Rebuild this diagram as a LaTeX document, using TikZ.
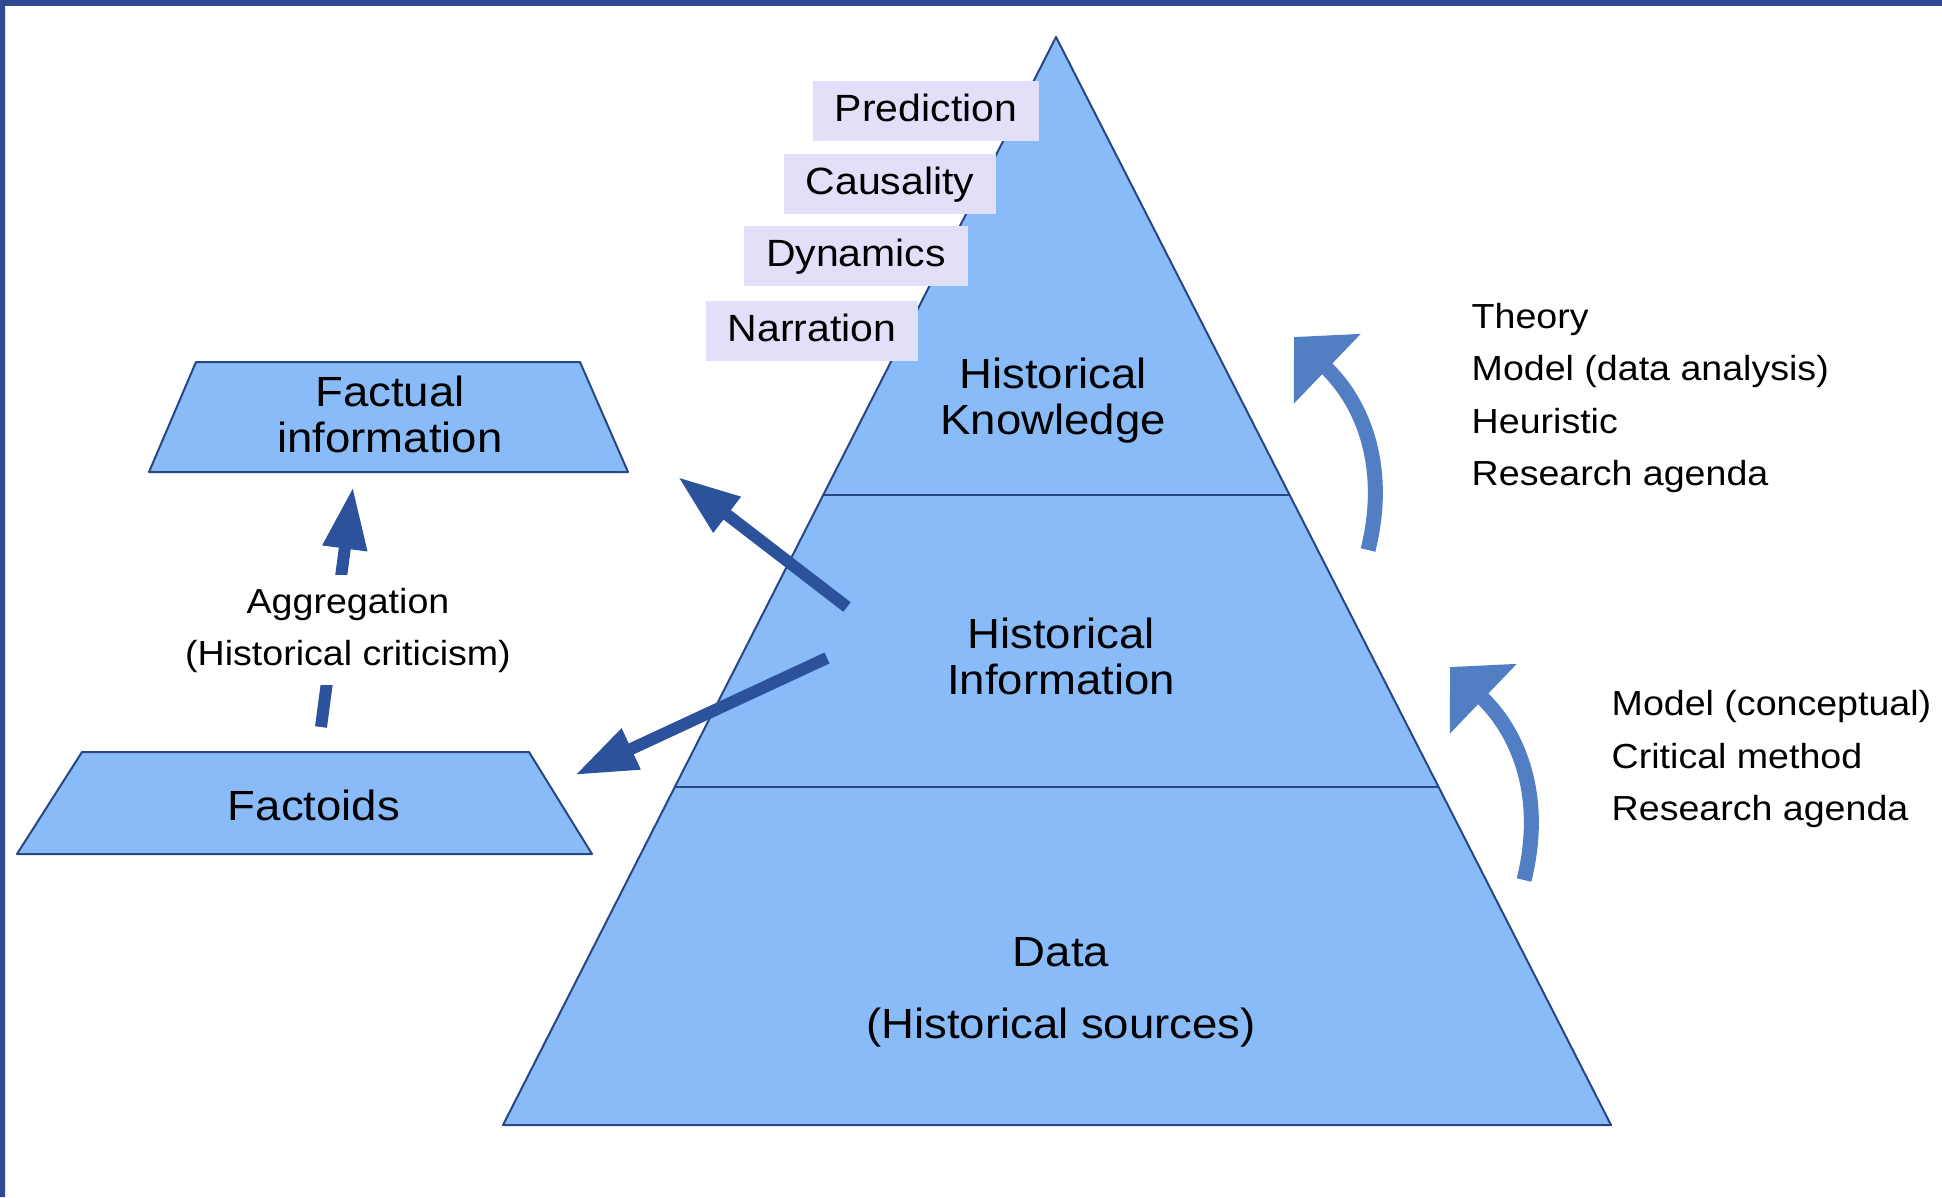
\documentclass[tikz,border=0pt]{standalone}
\usepackage{fontspec}
\setmainfont{Liberation Sans}[FakeStretch=1.08]
\usetikzlibrary{arrows.meta,calc}
\definecolor{pyrfill}{RGB}{136,187,248}
\definecolor{pyredge}{RGB}{40,70,130}
\definecolor{arrowdark}{RGB}{43,82,155}
\definecolor{arrowmid}{RGB}{82,127,196}
\definecolor{facetbg}{RGB}{226,224,248}
\definecolor{framebl}{RGB}{46,73,145}

\begin{document}
\begin{tikzpicture}[x=0.1mm, y=-0.1mm,
		layer/.style={fill=pyrfill, draw=pyredge, line width=0.2mm, line join=round},
		big/.style={font=\fontsize{12}{13.1}\selectfont, align=center, inner sep=0pt},
		facet/.style={fill=facetbg, font=\fontsize{10.8}{12}\selectfont, inner xsep=2.2mm,
			text height=8pt, text depth=2.3pt, minimum height=5.8mm},
		small/.style={font=\fontsize{9.9}{14.8}\selectfont, inner sep=0pt},
		push/.style={draw=arrowdark, line width=1.2mm, -{Triangle[length=6.2mm, width=4.2mm]}},
		lift/.style={draw=arrowmid, line width=1.5mm, -{Triangle[length=4.6mm, width=9.4mm]}}]
	\useasboundingbox (0,0) rectangle (1942,1197);
	\fill[framebl] (0,0) rectangle (1942,6) (0,0) rectangle (5,1197);

	% pyramid
	\coordinate (top) at (1056,37);
	\coordinate (bl) at (503,1125);
	\coordinate (br) at (1611,1125);
	\draw[layer] (top) -- (br) -- (bl) -- cycle;
	\draw[pyredge, line width=0.2mm]
		($(top)!0.421!(bl)$) -- ($(top)!0.421!(br)$)
		($(top)!0.689!(bl)$) -- ($(top)!0.689!(br)$);
	\node[big] (knowledge) at (1053,401) {Historical\\Knowledge};
	\node[big] (information) at (1061,656) {Historical\\Information};
	\node[big] (data) at (1061,992) {Data\\[7.4pt](Historical sources)};

	% left side
	\draw[layer] (196,362) -- (580,362) -- (628,472) -- (149,472) -- cycle;
	\draw[layer] (82,752) -- (529,752) -- (592,854) -- (17,854) -- cycle;
	\node[big] (factual) at (390,414) {Factual\\information};
	\node[big] (factoids) at (314,805) {Factoids};

	\coordinate (aggfrom) at (321,727);
	\coordinate (aggto) at (353,487);
	\draw[push] (aggfrom) -- (aggto);
	\node[small, fill=white, align=center, inner xsep=1mm, inner ysep=1.3mm] (aggregation)
		at (348,630) {Aggregation\\(Historical criticism)};

	\coordinate (upfrom) at (847,607);
	\coordinate (upto) at (678,477);
	\coordinate (downfrom) at (827,658);
	\coordinate (downto) at (575,775);
	\draw[push] (upfrom) -- (upto);
	\draw[push] (downfrom) -- (downto);

	% facets
	\node[facet] (prediction) at (926,111) {Prediction};
	\node[facet] (causality) at (890,184) {Causality};
	\node[facet] (dynamics) at (856,256) {Dynamics};
	\node[facet] (narration) at (812,331) {Narration};

	% right side
	\coordinate (kfrom) at (1368,550);
	\coordinate (kto) at (1294,337);
	\coordinate (ifrom) at (1524,880);
	\coordinate (ito) at (1450,667);
	\draw[lift] (kfrom) .. controls (1388,470) and (1365,405) .. (kto);
	\draw[lift] (ifrom) .. controls (1544,800) and (1521,735) .. (ito);
	\node[small, anchor=west, align=left] (theory) at (1471,398)
		{Theory\\Model (data analysis)\\Heuristic\\Research agenda};
	\node[small, anchor=west, align=left] (conceptual) at (1611,759)
		{Model (conceptual)\\Critical method\\Research agenda};
\end{tikzpicture}
\end{document}
